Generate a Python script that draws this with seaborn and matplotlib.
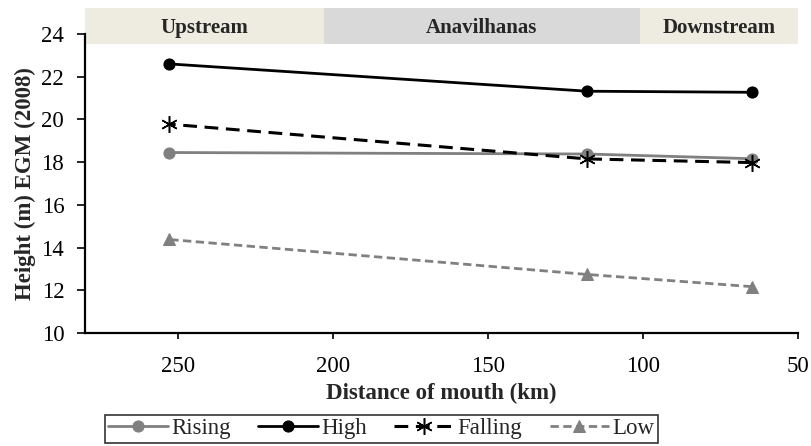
import numpy as np
import pandas as pd
import matplotlib
matplotlib.use("Agg")
import matplotlib.pyplot as plt
import seaborn as sns
from matplotlib.patches import Rectangle

# distance from the mouth (km) of the three stations
distance = [253, 118, 65]

# water surface heights, m EGM (2008)
rising = [18.45, 18.38, 18.16]
high = [22.60, 21.32, 21.27]
falling = [19.78, 18.15, 17.98]
low = [14.38, 12.74, 12.17]

# river reaches shown as bands above the plot
reach_names = ["Upstream", "Anavilhanas", "Downstream"]
reach_bounds = [(280, 203), (203, 101), (101, 50)]
reach_colors = ["#EEECE1", "#D9D9D9", "#EEECE1"]

sns.set_style("white")
plt.rcParams["font.family"] = ["Liberation Serif", "DejaVu Serif"]

fig = plt.figure(figsize=(8.12, 4.46), dpi=100)
ax = fig.add_axes([0.1047, 0.2534, 0.8783, 0.6704])

gray = "#808080"
series = [
    ("Rising", rising, dict(color=gray, marker="o", linestyle="-", markersize=8,
                            markeredgecolor=gray, linewidth=2)),
    ("High", high, dict(color="black", marker="o", linestyle="-", markersize=8,
                        markeredgecolor="black", linewidth=2)),
    ("Falling", falling, dict(color="black", marker=(6, 2, 0), linestyle=(0, (4.5, 2.5)),
                              markersize=12, markeredgecolor="black", markeredgewidth=1.1,
                              linewidth=2.2)),
    ("Low", low, dict(color=gray, marker="^", linestyle=(0, (3, 1.6)), markersize=8,
                      markeredgecolor=gray, linewidth=2)),
]
for name, vals, kw in series:
    df = pd.DataFrame({"distance": distance, "height": vals})
    sns.lineplot(data=df, x="distance", y="height", ax=ax, label=name, **kw)

ax.set_xlim(280, 50)
ax.set_ylim(10, 24)
ax.set_xticks([250, 200, 150, 100, 50])
ax.set_yticks(np.arange(10, 25, 2))

for (x0, x1), name, col in zip(reach_bounds, reach_names, reach_colors):
    ax.add_patch(Rectangle((x1, 23.52), x0 - x1, 1.7, facecolor=col, edgecolor="none",
                           clip_on=False, zorder=0))
    ax.text((x0 + x1) / 2, 24.3, name, ha="center", va="center", fontsize=15,
            fontweight="bold", clip_on=False)

for s in ["top", "right"]:
    ax.spines[s].set_visible(False)
for s in ["left", "bottom"]:
    ax.spines[s].set_color("black")
    ax.spines[s].set_linewidth(1.6)

ax.tick_params(axis="y", which="major", direction="out", length=6, width=1.2,
               left=True, pad=9, labelsize=16.5, colors="black")
ax.tick_params(axis="x", which="major", direction="out", length=4.5, width=1.2,
               bottom=True, pad=12, labelsize=16.5, colors="black")

ax.set_xlabel("Distance of mouth (km)", fontsize=16.5, fontweight="bold", labelpad=4)
ax.set_ylabel("Height (m) EGM (2008)", fontsize=16.5, fontweight="bold", labelpad=4)

leg = ax.legend(loc="upper left", bbox_to_anchor=(0.129, 0.0695),
                bbox_transform=fig.transFigure, borderaxespad=0, ncol=4, frameon=True,
                fancybox=False, fontsize=16.5, handlelength=2.6, handletextpad=0.15,
                columnspacing=1.2, borderpad=0.15, edgecolor="black")
leg.get_frame().set_linewidth(1.2)

fig.savefig("out.png", dpi=100)
